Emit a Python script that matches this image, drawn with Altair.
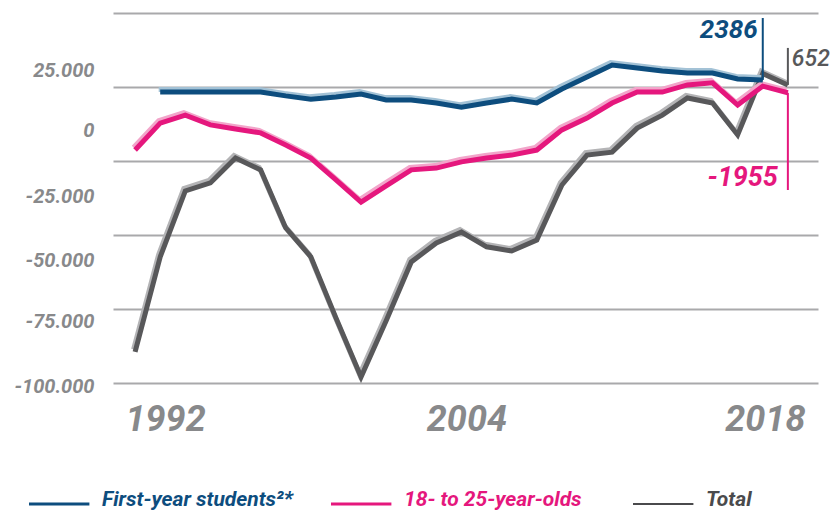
import altair as alt
import pandas as pd

# ---------------- data ----------------
years = [1992, 1993, 1994, 1995, 1996, 1997, 1998, 1999, 2000, 2001, 2002, 2003, 2004,
         2005, 2006, 2007, 2008, 2009, 2010, 2011, 2012, 2013, 2014, 2015, 2016, 2017, 2018]
total = [-89500, -57400, -35100, -32400, -24000, -28000, -47600, -57400, -78000, -98000,
         -79000, -59100, -52700, -49000, -54000, -55400, -51700, -33100, -23000, -22000,
         -13900, -9500, -3700, -5400, -16200, 4500, 652]
young = [-21300, -12200, -9500, -12800, -14200, -15500, -19600, -24000, -31400, -38900,
         -33400, -28000, -27400, -25300, -24000, -23000, -21300, -14500, -10500, -5400,
         -1700, -1700, 700, 1400, -6100, 300, -1955]
first_years = [1993, 1994, 1995, 1996, 1997, 1998, 1999, 2000, 2001, 2002, 2003, 2004, 2005,
               2006, 2007, 2008, 2009, 2010, 2011, 2012, 2013, 2014, 2015, 2016, 2017]
first = [-1700, -1700, -1700, -1700, -1700, -3000, -4100, -3400, -2400, -4400, -4400, -5400,
         -6800, -5400, -4100, -5400, -700, 3400, 7400, 6400, 5400, 4700, 4700, 2700, 2386]

series_names = ["First-year students²*", "18- to 25-year-olds", "Total"]

# annotations at the end of each line
ann_series = ["First-year students²*", "Total", "18- to 25-year-olds"]
ann_year = [2017, 2018, 2018]
ann_value = [2386, 652, -1955]
ann_tip = [23300, 13200, -34800]
ann_text_at = [19300, 9500, -30700]
ann_text = ["2386", "652", "-1955"]

y_ticks = [25000, 0, -25000, -50000, -75000, -100000]
y_tick_labels = ["25.000", "0", "-25.000", "-50.000", "-75.000", "-100.000"]
x_ticks = [1992, 2004, 2018]

# ---------------- styles ----------------
main_color = {"First-year students²*": "#0d4d7e", "18- to 25-year-olds": "#e5177d", "Total": "#58585a"}
light_color = {"First-year students²*": "#a3c2d6", "18- to 25-year-olds": "#f2a5ca", "Total": "#b4b4b6"}
legend_text_color = {"First-year students²*": "#0d4d7e", "18- to 25-year-olds": "#e5177d", "Total": "#4a4a4c"}
legend_width = {"First-year students²*": 3, "18- to 25-year-olds": 3, "Total": 2}
y_label_shift = [57, 43, 35, 25, 12, 3]
x_label_shift_default = 30
x_label_shift_last = -23
FONT = "Roboto"
AXIS_GREY = "#88898b"

rows = []
for s, xs, vs in [("Total", years, total), ("18- to 25-year-olds", years, young),
                  ("First-year students²*", first_years, first)]:
    for yr, v in zip(xs, vs):
        rows.append({"year": yr, "value": v, "series": s,
                     "main": main_color[s], "light": light_color[s]})
df = pd.DataFrame(rows)

ann = pd.DataFrame({"series": ann_series, "year": ann_year, "value": ann_value,
                    "tip": ann_tip, "textat": ann_text_at, "text": ann_text})
ann["main"] = ann["series"].map(main_color)

leg = pd.DataFrame({"idx": [0, 1, 2], "label": series_names})
leg["color"] = leg["label"].map(legend_text_color)
leg["w"] = leg["label"].map(legend_width)

# ---------------- scales / axes ----------------
x_scale = alt.Scale(domain=[1991.12, 2019.2], nice=False, zero=False)
y_scale = alt.Scale(domain=[-100000, 25000], nice=False, zero=False)

x_axis = alt.Axis(
    values=x_ticks, format="d", title=None, grid=False, ticks=False, tickSize=0, domain=False,
    labelFont=FONT, labelFontSize=36, labelFontWeight="bold", labelFontStyle="italic",
    labelColor=AXIS_GREY, labelPadding=19, labelFlush=False, labelOverlap=False,
    labelOffset={"condition": {"test": f"datum.value == {x_ticks[-1]}", "value": x_label_shift_last},
                 "value": x_label_shift_default},
)
label_expr = " : ".join(f"datum.value == {v} ? '{l}'" for v, l in zip(y_ticks, y_tick_labels)) + " : ''"
y_axis = alt.Axis(
    values=y_ticks, labelExpr=label_expr, title=None, grid=True, gridColor="#a9a9ab", gridWidth=2,
    ticks=False, tickSize=0, domain=False,
    labelFont=FONT, labelFontSize=20, labelFontWeight="bold", labelFontStyle="italic",
    labelColor=AXIS_GREY, labelPadding=19, labelOverlap=False, labelFlush=False,
    labelOffset={"condition": [{"test": f"datum.value == {v}", "value": o}
                               for v, o in zip(y_ticks, y_label_shift)], "value": 0},
)

X = alt.X("year:Q", scale=x_scale, axis=x_axis)
Y = alt.Y("value:Q", scale=y_scale, axis=y_axis)

base = alt.Chart(df)
layers = []
for s in ["Total", "18- to 25-year-olds", "First-year students²*"]:
    sub = base.transform_filter(alt.datum.series == s)
    layers.append(sub.mark_line(strokeWidth=5, xOffset=-1.5, yOffset=-2.5).encode(
        x=X, y=Y, stroke=alt.Stroke("light:N", scale=None)))
    layers.append(sub.mark_line(strokeWidth=5).encode(
        x=X, y=Y, stroke=alt.Stroke("main:N", scale=None)))

abase = alt.Chart(ann)
layers.append(abase.mark_rule(strokeWidth=2).encode(
    x=X, y=Y, y2=alt.Y2("tip:Q"), stroke=alt.Stroke("main:N", scale=None)))

text_specs = [
    ("2386", dict(align="right", dx=-5, fontWeight="bold", fontSize=26)),
    ("652", dict(align="left", dx=4, fontWeight=500, fontSize=23)),
    ("-1955", dict(align="right", dx=-10, fontWeight="bold", fontSize=27)),
]
for t, props in text_specs:
    layers.append(abase.transform_filter(alt.datum.text == t).mark_text(
        font=FONT, fontStyle="italic", baseline="middle", **props).encode(
        x=X, y=alt.Y("textat:Q", scale=y_scale, axis=y_axis), text="text:N",
        fill=alt.Fill("main:N", scale=None)))

main = alt.layer(*layers)

# legend row, below the plot
lx = alt.X("idx:Q", scale=alt.Scale(domain=[0, 3], range=[-84, 822]), axis=None)
lbase = alt.Chart(leg).transform_calculate(idx2="datum.idx + 0.2")
legend = alt.layer(
    lbase.mark_rule().encode(x=lx, x2=alt.X2("idx2:Q"), y=alt.value(491),
                             stroke=alt.Stroke("color:N", scale=None),
                             strokeWidth=alt.StrokeWidth("w:Q", scale=None)),
    lbase.mark_text(align="left", baseline="middle", dx=73, font=FONT, fontSize=21,
                    fontWeight="bold", fontStyle="italic").encode(
        x=lx, y=alt.value(487), text="label:N", fill=alt.Fill("color:N", scale=None)),
)

chart = alt.layer(main, legend).resolve_scale(x="independent").properties(
    width=705, height=370,
    autosize=alt.AutoSizeParams(type="none"),
    padding={"left": 105, "top": 5, "right": 14, "bottom": 130},
).configure_view(stroke=None)

chart.save("out.html", embed_options={"renderer": "svg", "actions": False})
